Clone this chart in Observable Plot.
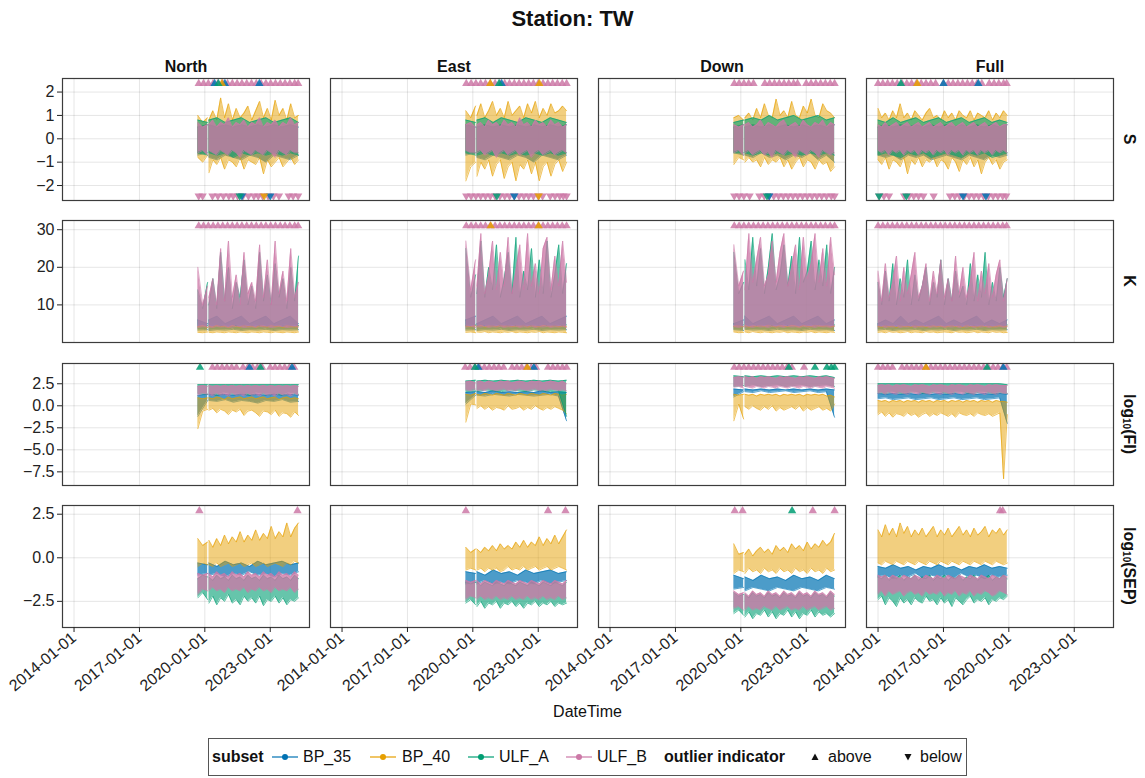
<!DOCTYPE html>
<html>
<head>
<meta charset="utf-8">
<script src="https://cdn.jsdelivr.net/npm/d3@7"></script>
<script src="https://cdn.jsdelivr.net/npm/@observablehq/plot@0.6"></script>
<style>
  body { margin: 0; background: #fff; font-family: "Liberation Sans", Arial, sans-serif; color: #111; }
  #fig { position: relative; width: 1145px; height: 778px; overflow: hidden; background: #fff; }
  .abs { position: absolute; white-space: nowrap; }
  .title { left: 0; width: 1145px; top: 6px; text-align: center; font-weight: bold; font-size: 22px; }
  .rowlab { font-weight: bold; font-size: 16px; transform: translate(-50%, -50%) rotate(90deg); }
  .rowlab sub { font-size: 10px; vertical-align: -1px; }
  .xlab { left: 60px; width: 1055px; top: 703px; text-align: center; font-size: 16px; }
  #legend { left: 208px; top: 738px; width: 759px; height: 38px; border: 1px solid #555; box-sizing: border-box; font-size: 16px; }
  #legend .abs { top: 50%; transform: translateY(-50%); line-height: 16px; }
</style>
</head>
<body>
<div id="fig"></div>
<script>
// ---------- categories and axes ----------
const columns = ["North", "East", "Down", "Full"];
const subsets = ["BP_35", "BP_40", "ULF_A", "ULF_B"];
const subsetColors = ["#0072B2", "#E69F00", "#009E73", "#CC79A7"];
const bandOpacity = [0.7, 0.5, 0.6, 0.78];
const xTickYears = [2014, 2017, 2020, 2023];
const xDomainYears = [2013.47, 2024.80];

// sample spans (decimal years): the live components have a short outage early in 2020
const spanBeforeGap = [2019.68, 2020.13];
const spanAfterGap = [2020.19, 2024.30];
const spanFull = [2014.0, 2019.93];

const sTicks = [-2, -1, 0, 1, 2];
const sDomain = [-2.64, 2.58];
const kTicks = [10, 20, 30];
const kDomain = [0, 32.45];
const fiTicks = [-7.5, -5, -2.5, 0, 2.5];
const fiDomain = [-9.05, 4.8];
const sepTicks = [-2.5, 0, 2.5];
const sepDomain = [-4.0, 3.0];

// outlier indicator levels (data units)
const sAboveLevel = 2.36, sBelowLevel = -2.44, kAboveLevel = 31.0, fiAboveLevel = 4.35, sepAboveLevel = 2.7;

// Each series is a list of [max, min] per time window; null marks the 2020 outage.

// ---------- S ----------
const S_North_BP_35 = [[0.5,-0.7],[0.6,-0.6],null,[0.6,-0.8],[0.5,-0.9],[0.6,-0.7],[0.5,-0.8],[0.6,-0.9],[0.5,-0.7],[0.6,-0.8],[0.5,-1.0],[0.6,-0.7],[0.5,-0.8],[0.6,-0.9],[0.5,-0.7]];
const S_North_BP_40 = [[1.0,-0.8],[0.7,-1.0],[0.9,-0.7],null,[0.8,-1.45],[1.2,-0.9],[0.8,-1.1],[1.75,-0.8],[0.9,-1.3],[1.5,-0.9],[0.8,-1.0],[1.3,-1.2],[0.9,-0.8],[1.1,-1.3],[1.4,-0.9],[0.8,-1.0],[1.2,-1.1],[1.6,-0.8],[0.9,-1.5],[1.3,-0.9],[0.8,-1.2],[1.65,-1.0],[1.0,-0.8],[1.3,-1.2],[0.8,-1.0],[1.5,-0.8],[0.9,-1.1],[1.0,-0.9]];
const S_North_ULF_A = [[0.8,-0.6],[0.7,-0.7],null,[0.8,-0.6],[0.9,-0.7],[0.7,-0.6],[0.8,-0.8],[0.9,-0.6],[0.7,-0.7],[0.8,-0.6],[0.9,-0.7],[0.7,-0.6],[0.8,-0.7],[0.9,-0.6],[0.7,-0.7]];
const S_North_ULF_B = [[0.7,-0.6],[0.5,-0.5],[0.6,-0.7],null,[0.6,-0.5],[0.8,-0.6],[0.5,-0.7],[0.7,-0.5],[0.6,-0.6],[0.9,-0.7],[0.5,-0.5],[0.7,-0.6],[0.6,-0.8],[0.8,-0.5],[0.5,-0.6],[0.7,-0.7],[0.6,-0.5],[0.9,-0.6],[0.5,-0.7],[0.7,-0.5],[0.6,-0.6],[0.8,-0.8],[0.5,-0.5],[0.7,-0.6],[0.6,-0.7],[0.9,-0.5],[0.6,-0.6],[0.7,-0.6]];

const S_East_BP_35 = [[0.6,-0.7],[0.5,-0.6],null,[0.5,-0.8],[0.6,-0.9],[0.5,-0.7],[0.6,-0.8],[0.5,-0.9],[0.6,-0.7],[0.5,-0.8],[0.6,-1.0],[0.5,-0.7],[0.6,-0.8],[0.5,-0.9],[0.6,-0.7]];
const S_East_BP_40 = [[1.2,-1.8],[0.9,-1.2],[1.4,-1.0],null,[1.0,-1.6],[1.5,-1.0],[0.9,-1.3],[1.2,-0.9],[1.6,-1.6],[1.0,-1.1],[1.3,-0.9],[0.9,-1.7],[1.6,-1.2],[1.0,-1.0],[1.2,-1.8],[1.4,-1.1],[0.9,-1.3],[1.5,-0.9],[1.1,-1.5],[1.6,-1.0],[0.9,-1.8],[1.3,-1.2],[1.0,-1.0],[1.5,-1.6],[1.1,-1.1],[1.2,-0.9],[1.4,-1.4],[1.2,-1.0]];
const S_East_ULF_A = [[0.8,-0.6],[0.7,-0.7],null,[0.8,-0.7],[0.9,-0.6],[0.7,-0.7],[0.9,-0.6],[0.8,-0.7],[0.7,-0.6],[0.9,-0.7],[0.8,-0.6],[0.7,-0.7],[0.9,-0.6],[0.8,-0.7],[0.7,-0.6]];
const S_East_ULF_B = [[0.6,-0.5],[0.7,-0.6],[0.5,-0.6],null,[0.6,-0.6],[0.7,-0.5],[0.5,-0.7],[0.8,-0.6],[0.6,-0.5],[0.7,-0.8],[0.5,-0.6],[0.8,-0.5],[0.6,-0.7],[0.7,-0.6],[0.5,-0.5],[0.9,-0.7],[0.6,-0.6],[0.7,-0.5],[0.5,-0.8],[0.8,-0.6],[0.6,-0.5],[0.7,-0.7],[0.5,-0.6],[0.8,-0.5],[0.6,-0.7],[0.7,-0.6],[0.5,-0.5],[0.6,-0.6]];

const S_Down_BP_35 = [[0.5,-0.6],[0.6,-0.7],null,[0.5,-0.7],[0.6,-0.8],[0.5,-0.6],[0.6,-0.8],[0.5,-0.7],[0.6,-0.9],[0.5,-0.7],[0.6,-0.8],[0.5,-0.6],[0.6,-0.9],[0.5,-0.7],[0.6,-1.0]];
const S_Down_BP_40 = [[0.9,-1.1],[1.0,-0.8],[0.8,-0.9],null,[0.9,-1.0],[1.1,-0.8],[0.8,-1.0],[1.3,-0.9],[0.9,-1.2],[1.5,-0.8],[1.0,-1.1],[0.9,-0.9],[1.7,-1.0],[1.0,-0.8],[1.2,-1.2],[0.9,-0.9],[1.6,-1.3],[1.0,-1.0],[0.9,-0.8],[1.4,-1.2],[1.1,-0.9],[1.7,-1.0],[1.0,-1.3],[0.9,-0.9],[1.5,-1.1],[1.2,-1.0],[1.1,-1.4],[0.9,-1.2]];
const S_Down_ULF_A = [[0.7,-0.6],[0.8,-0.6],null,[0.8,-0.6],[0.9,-0.7],[0.8,-0.6],[1.0,-0.7],[0.8,-0.6],[0.9,-0.7],[1.0,-0.6],[0.8,-0.7],[0.9,-0.6],[1.0,-0.7],[0.8,-0.6],[0.9,-0.7]];
const S_Down_ULF_B = [[0.6,-0.6],[0.5,-0.5],[0.6,-0.7],null,[0.6,-0.6],[0.7,-0.5],[0.5,-0.7],[0.6,-0.6],[0.8,-0.5],[0.5,-0.7],[0.7,-0.6],[0.6,-0.8],[0.5,-0.5],[0.7,-0.6],[0.8,-0.7],[0.5,-0.5],[0.6,-0.6],[0.7,-0.8],[0.5,-0.5],[0.8,-0.6],[0.6,-0.7],[0.5,-0.5],[0.7,-0.6],[0.6,-0.8],[0.8,-0.5],[0.5,-0.6],[0.7,-0.7],[0.6,-0.6]];

const S_Full_BP_35 = [[0.5,-0.7],[0.6,-0.8],[0.5,-0.7],[0.6,-0.9],[0.5,-0.7],[0.6,-0.8],[0.5,-0.7],[0.6,-0.9],[0.5,-0.8],[0.6,-0.7],[0.5,-0.8],[0.6,-0.9],[0.5,-0.7],[0.6,-0.8],[0.5,-0.9],[0.6,-0.7],[0.5,-0.8],[0.6,-0.7]];
const S_Full_BP_40 = [[1.3,-0.9],[0.9,-1.1],[1.1,-0.8],[0.8,-1.3],[1.2,-0.9],[0.9,-1.0],[1.5,-1.2],[0.9,-0.8],[1.1,-1.5],[0.8,-0.9],[1.2,-1.1],[1.0,-0.8],[0.8,-1.2],[1.1,-0.9],[1.3,-1.0],[0.9,-0.8],[1.0,-1.2],[0.8,-0.9],[1.2,-1.0],[0.9,-1.3],[1.1,-0.8],[0.8,-1.0],[1.2,-1.4],[1.0,-0.9],[0.9,-1.1],[1.2,-0.8],[0.8,-1.2],[1.1,-0.9],[1.0,-1.5],[0.9,-1.0],[1.2,-0.8],[0.8,-1.1],[1.1,-0.9],[0.9,-1.3],[1.2,-1.0],[1.0,-0.9]];
const S_Full_ULF_A = [[0.8,-0.7],[0.7,-0.6],[0.9,-0.7],[0.7,-0.8],[0.8,-0.6],[0.9,-0.7],[0.7,-0.6],[0.8,-0.8],[0.9,-0.7],[0.7,-0.6],[0.8,-0.7],[0.9,-0.8],[0.7,-0.6],[0.8,-0.7],[0.9,-0.6],[0.7,-0.8],[0.8,-0.7],[0.7,-0.6]];
const S_Full_ULF_B = [[0.6,-0.5],[0.5,-0.6],[0.7,-0.5],[0.5,-0.7],[0.6,-0.5],[0.7,-0.6],[0.5,-0.5],[0.6,-0.7],[0.7,-0.5],[0.5,-0.6],[0.6,-0.5],[0.7,-0.7],[0.5,-0.5],[0.6,-0.6],[0.7,-0.5],[0.5,-0.7],[0.6,-0.5],[0.7,-0.6],[0.5,-0.5],[0.6,-0.7],[0.7,-0.5],[0.5,-0.6],[0.6,-0.5],[0.7,-0.7],[0.5,-0.5],[0.6,-0.6],[0.7,-0.5],[0.5,-0.7],[0.6,-0.5],[0.7,-0.6],[0.5,-0.5],[0.6,-0.7],[0.7,-0.5],[0.5,-0.6],[0.6,-0.5],[0.6,-0.6]];

// ---------- K ----------
const K_North_BP_35 = [[6,3.3],[5,3.4],null,[6,3.2],[7,3.4],[5,3.3],[6,3.5],[7,3.2],[5,3.4],[6,3.3],[7,3.5],[5,3.2],[6,3.4],[7,3.3],[5,3.4]];
const K_North_BP_40 = [[4.2,2.7],[4.5,2.6],[4.0,2.8],null,[4.3,2.7],[4.1,2.6],[4.6,2.8],[4.2,2.7],[4.4,2.6],[4.0,2.8],[4.5,2.7],[4.3,2.6],[4.1,2.8],[4.6,2.7],[4.2,2.6],[4.4,2.8],[4.0,2.7],[4.5,2.6],[4.3,2.8],[4.1,2.7],[4.6,2.6],[4.2,2.8],[4.4,2.7],[4.0,2.6],[4.5,2.8],[4.3,2.7],[4.1,2.6],[4.4,2.8]];
const K_North_ULF_A = [[14,4.6],[9,4.8],[16,4.5],null,[10,4.7],[17,4.6],[9,4.8],[24,4.5],[11,4.7],[20,4.6],[9,4.8],[16,4.5],[12,4.7],[22,4.6],[10,4.8],[15,4.5],[9,4.7],[24,4.6],[11,4.8],[18,4.5],[10,4.7],[21,4.6],[12,4.8],[17,4.5],[9,4.7],[20,4.6],[11,4.8],[23,4.5]];
const K_North_ULF_B = [[20,4.0],[10,4.2],[15,4.1],null,[12,4.1],[17,4.0],[10,4.3],[25,4.1],[11,4.2],[27,4.0],[12,4.1],[18,4.3],[10,4.2],[24,4.0],[13,4.1],[16,4.2],[11,4.0],[26,4.3],[12,4.1],[22,4.2],[10,4.0],[27,4.1],[13,4.3],[19,4.2],[11,4.0],[25,4.1],[12,4.2],[16,4.1]];

const K_East_BP_35 = [[6,3.3],[7,3.4],null,[5,3.2],[6,3.4],[7,3.3],[5,3.5],[6,3.2],[7,3.4],[5,3.3],[6,3.5],[7,3.2],[5,3.4],[6,3.3],[7,3.4]];
const K_East_BP_40 = [[4.4,2.7],[4.2,2.8],[4.5,2.6],null,[4.3,2.8],[4.6,2.7],[4.1,2.9],[4.4,2.6],[4.5,2.8],[4.2,2.7],[4.6,2.6],[4.3,2.8],[4.5,2.7],[4.2,2.9],[4.4,2.6],[4.3,2.8],[4.6,2.7],[4.1,2.6],[4.5,2.8],[4.3,2.7],[4.2,2.9],[4.6,2.6],[4.4,2.8],[4.3,2.7],[4.5,2.6],[4.2,2.8],[4.4,2.7],[4.3,2.6]];
const K_East_ULF_A = [[25,4.6],[12,4.8],[18,4.7],null,[13,4.5],[27,4.8],[12,4.6],[20,4.7],[14,4.5],[26,4.8],[12,4.6],[17,4.7],[24,4.5],[13,4.8],[28,4.6],[12,4.7],[19,4.5],[14,4.8],[25,4.6],[12,4.7],[22,4.5],[13,4.8],[27,4.6],[12,4.7],[18,4.5],[26,4.8],[13,4.6],[21,4.7]];
const K_East_ULF_B = [[27,4.1],[14,4.3],[22,4.0],null,[15,4.2],[29,4.1],[13,4.3],[18,4.0],[27,4.2],[14,4.1],[24,4.3],[15,4.0],[28,4.2],[13,4.1],[19,4.3],[26,4.0],[14,4.2],[29,4.1],[15,4.3],[21,4.0],[13,4.2],[25,4.1],[28,4.3],[14,4.0],[23,4.2],[15,4.1],[27,4.3],[16,4.0]];

const K_Down_BP_35 = [[5,3.4],[6,3.2],null,[7,3.5],[5,3.3],[6,3.4],[7,3.2],[5,3.5],[6,3.3],[7,3.4],[5,3.2],[6,3.5],[7,3.3],[5,3.4],[6,3.2]];
const K_Down_BP_40 = [[4.3,2.8],[4.5,2.6],[4.2,2.7],null,[4.6,2.8],[4.1,2.6],[4.4,2.9],[4.3,2.7],[4.5,2.6],[4.2,2.8],[4.6,2.7],[4.4,2.6],[4.1,2.8],[4.5,2.7],[4.3,2.9],[4.2,2.6],[4.6,2.8],[4.4,2.7],[4.1,2.6],[4.5,2.8],[4.3,2.7],[4.2,2.9],[4.6,2.6],[4.4,2.8],[4.3,2.7],[4.5,2.6],[4.2,2.8],[4.4,2.7]];
const K_Down_ULF_A = [[24,4.8],[13,4.6],[16,4.7],null,[22,4.9],[14,4.6],[28,4.8],[15,4.7],[25,4.6],[13,4.8],[20,4.7],[29,4.6],[14,4.8],[18,4.7],[26,4.9],[15,4.6],[23,4.8],[13,4.7],[28,4.6],[16,4.8],[19,4.7],[27,4.9],[14,4.6],[22,4.8],[15,4.7],[26,4.6],[13,4.8],[20,4.7]];
const K_Down_ULF_B = [[26,4.2],[15,4.0],[19,4.3],null,[14,4.1],[29,4.2],[16,4.0],[22,4.3],[28,4.1],[15,4.2],[18,4.0],[27,4.3],[16,4.1],[24,4.2],[29,4.0],[15,4.3],[20,4.1],[26,4.2],[14,4.0],[28,4.3],[17,4.1],[21,4.2],[29,4.0],[16,4.3],[25,4.1],[15,4.2],[28,4.0],[18,4.3]];

const K_Full_BP_35 = [[5,3.3],[6,3.5],[5,3.2],[7,3.4],[5,3.3],[6,3.5],[5,3.2],[6,3.4],[7,3.3],[5,3.5],[6,3.2],[5,3.4],[6,3.3],[7,3.5],[5,3.2],[6,3.4],[5,3.3],[6,3.4]];
const K_Full_BP_40 = [[4.3,2.7],[4.1,2.8],[4.5,2.6],[4.2,2.9],[4.4,2.7],[4.0,2.8],[4.6,2.6],[4.2,2.7],[4.3,2.9],[4.1,2.6],[4.5,2.8],[4.2,2.7],[4.4,2.6],[4.1,2.9],[4.3,2.7],[4.5,2.8],[4.2,2.6],[4.4,2.7],[4.1,2.8],[4.3,2.7],[4.5,2.6],[4.2,2.9],[4.4,2.7],[4.0,2.8],[4.6,2.6],[4.2,2.7],[4.3,2.9],[4.1,2.6],[4.5,2.8],[4.2,2.7],[4.4,2.6],[4.1,2.9],[4.3,2.7],[4.5,2.8],[4.2,2.6],[4.4,2.7]];
const K_Full_ULF_A = [[16,4.6],[10,4.8],[19,4.5],[11,4.7],[21,4.6],[10,4.8],[17,4.5],[12,4.7],[22,4.6],[10,4.8],[18,4.5],[11,4.7],[15,4.6],[20,4.8],[10,4.5],[16,4.7],[12,4.6],[22,4.8],[10,4.5],[17,4.7],[11,4.6],[19,4.8],[12,4.5],[15,4.7],[10,4.6],[21,4.8],[11,4.5],[18,4.7],[12,4.6],[24,4.8],[10,4.5],[16,4.7],[11,4.6],[20,4.8],[12,4.5],[17,4.7]];
const K_Full_ULF_B = [[19,4.1],[11,4.3],[21,4.0],[12,4.2],[16,4.1],[23,4.3],[11,4.0],[20,4.2],[13,4.1],[18,4.3],[24,4.0],[12,4.2],[15,4.1],[21,4.3],[11,4.0],[19,4.2],[13,4.1],[22,4.3],[12,4.0],[17,4.2],[11,4.1],[23,4.3],[13,4.0],[20,4.2],[12,4.1],[16,4.3],[24,4.0],[11,4.2],[19,4.1],[13,4.3],[21,4.0],[12,4.2],[18,4.1],[22,4.3],[11,4.0],[17,4.2]];

// ---------- log10(FI) ----------
const FI_North_BP_35 = [[1.2,-1.2],[1.3,0.6],null,[1.3,0.6],[1.2,0.5],[1.3,0.7],[1.2,0.4],[1.3,0.6],[1.2,0.5],[1.3,0.3],[1.2,0.6],[1.3,0.5],[1.2,0.7],[1.3,0.4],[1.2,0.5]];
const FI_North_BP_40 = [[0.9,-2.6],[0.8,-0.6],[0.9,-0.4],null,[0.9,-0.5],[0.8,-0.3],[1.0,-0.8],[0.9,-0.4],[0.7,-0.6],[1.0,-1.0],[0.8,-0.5],[0.9,-0.7],[1.0,-0.4],[0.8,-1.1],[0.9,-0.6],[1.0,-0.5],[0.8,-0.8],[0.9,-1.2],[1.0,-0.6],[0.8,-0.7],[0.9,-1.0],[1.0,-0.5],[0.7,-1.2],[0.9,-0.8],[1.0,-0.9],[0.8,-1.3],[0.9,-0.7],[0.8,-1.1]];
const FI_North_ULF_A = [[2.4,1.4],[2.4,1.3],null,[2.4,1.4],[2.4,1.2],[2.4,1.5],[2.4,1.3],[2.4,1.4],[2.4,1.2],[2.4,1.5],[2.4,1.3],[2.4,1.4],[2.4,1.2],[2.4,1.5],[2.4,1.3]];
const FI_North_ULF_B = [[2.2,1.2],[2.3,1.4],[2.2,1.3],null,[2.3,1.3],[2.2,1.1],[2.3,1.4],[2.2,1.2],[2.3,1.3],[2.2,1.1],[2.3,1.4],[2.2,1.2],[2.3,1.3],[2.2,1.1],[2.3,1.4],[2.2,1.2],[2.3,1.3],[2.2,1.1],[2.3,1.4],[2.2,1.2],[2.3,1.3],[2.2,1.1],[2.3,1.4],[2.2,1.2],[2.3,1.3],[2.2,1.1],[2.3,1.4],[2.2,1.2]];

const FI_East_BP_35 = [[1.5,0.2],[1.6,1.2],null,[1.6,1.2],[1.5,1.1],[1.7,1.3],[1.5,1.2],[1.6,1.1],[1.5,1.3],[1.6,1.2],[1.5,1.1],[1.7,1.2],[1.5,1.3],[1.6,1.1],[1.5,-1.7]];
const FI_East_BP_40 = [[1.3,-1.85],[1.2,0.2],[1.4,0.1],null,[1.3,-0.3],[1.2,0.0],[1.4,-0.4],[1.3,-0.1],[1.2,-0.5],[1.4,-0.2],[1.3,-0.3],[1.2,-0.5],[1.4,0.0],[1.3,-0.4],[1.2,-0.3],[1.4,-0.1],[1.3,-0.5],[1.2,-0.2],[1.4,-0.4],[1.3,0.0],[1.2,-0.3],[1.4,-0.5],[1.3,-0.2],[1.2,-0.4],[1.4,-0.1],[1.3,-0.3],[1.2,-0.5],[1.3,-0.9]];
const FI_East_ULF_A = [[2.8,1.6],[2.9,1.7],null,[2.8,1.6],[2.9,1.8],[2.8,1.7],[2.9,1.6],[2.8,1.8],[2.9,1.7],[2.8,1.6],[2.9,1.8],[2.8,1.7],[2.9,1.6],[2.8,1.7],[2.9,-1.2]];
const FI_East_ULF_B = [[2.7,1.8],[2.8,1.7],[2.6,1.9],null,[2.7,1.7],[2.8,1.8],[2.6,1.7],[2.8,1.9],[2.7,1.8],[2.6,1.7],[2.8,1.8],[2.7,1.9],[2.8,1.7],[2.6,1.8],[2.7,1.7],[2.8,1.9],[2.7,1.8],[2.6,1.7],[2.8,1.8],[2.7,1.9],[2.8,1.7],[2.6,1.8],[2.7,1.7],[2.8,1.9],[2.7,1.8],[2.6,1.7],[2.8,1.8],[2.5,1.7]];

const FI_Down_BP_35 = [[1.9,1.0],[1.8,1.6],null,[1.9,1.6],[1.8,1.5],[1.9,1.7],[1.8,1.5],[1.9,1.6],[1.8,1.7],[1.9,1.5],[1.8,1.6],[1.9,1.7],[1.8,1.5],[1.9,1.6],[1.8,-1.3]];
const FI_Down_BP_40 = [[1.3,-1.7],[1.2,0.2],[1.3,-1.5],null,[1.3,-0.1],[1.2,-0.4],[1.3,0.0],[1.1,-0.3],[1.3,-0.5],[1.2,-0.1],[1.3,-0.4],[1.2,0.0],[1.3,-0.6],[1.1,-0.2],[1.3,-0.5],[1.2,-0.3],[1.3,-0.1],[1.2,-0.4],[1.3,0.0],[1.1,-0.6],[1.3,-0.2],[1.2,-0.5],[1.3,-0.3],[1.2,-0.1],[1.3,-0.5],[1.1,-0.3],[1.2,-0.6],[1.0,0.2]];
const FI_Down_ULF_A = [[3.4,2.2],[3.3,2.3],null,[3.4,2.2],[3.3,2.4],[3.4,2.2],[3.3,2.3],[3.4,2.4],[3.3,2.2],[3.4,2.3],[3.3,2.4],[3.4,2.2],[3.3,2.3],[3.4,2.4],[3.2,2.2]];
const FI_Down_ULF_B = [[3.2,2.1],[3.3,2.2],[3.2,2.0],null,[3.3,2.2],[3.2,2.1],[3.3,2.0],[3.1,2.2],[3.3,2.1],[3.2,2.0],[3.3,2.2],[3.2,2.1],[3.1,2.0],[3.3,2.2],[3.2,2.1],[3.3,2.0],[3.2,2.2],[3.1,2.1],[3.3,2.0],[3.2,2.2],[3.3,2.1],[3.2,2.0],[3.1,2.2],[3.3,2.1],[3.2,2.0],[3.3,2.2],[3.2,2.1],[3.1,2.0]];

const FI_Full_BP_35 = [[1.4,0.8],[1.3,0.9],[1.4,0.7],[1.3,0.8],[1.4,0.9],[1.3,0.7],[1.4,0.8],[1.3,0.9],[1.4,0.7],[1.3,0.8],[1.4,0.9],[1.3,0.7],[1.4,0.8],[1.3,0.9],[1.4,0.7],[1.3,0.8],[1.4,0.9],[1.3,-2.0]];
const FI_Full_BP_40 = [[0.6,-1.0],[0.5,-0.7],[0.6,-1.2],[0.4,-0.8],[0.6,-1.3],[0.5,-0.9],[0.6,-1.0],[0.4,-1.2],[0.6,-0.8],[0.5,-1.1],[0.6,-0.9],[0.4,-1.3],[0.6,-1.0],[0.5,-0.8],[0.6,-1.2],[0.4,-0.9],[0.6,-1.1],[0.5,-0.8],[0.6,-1.0],[0.4,-1.2],[0.6,-0.9],[0.5,-1.3],[0.6,-0.8],[0.4,-1.0],[0.6,-1.1],[0.5,-0.9],[0.6,-1.2],[0.4,-0.8],[0.6,-1.0],[0.5,-1.1],[0.6,-0.9],[0.4,-1.2],[0.6,-1.0],[0.5,-0.8],[0.5,-8.3],[0.4,-1.0]];
const FI_Full_ULF_A = [[2.5,1.5],[2.5,1.4],[2.5,1.6],[2.5,1.4],[2.5,1.5],[2.5,1.6],[2.5,1.4],[2.5,1.5],[2.5,1.6],[2.5,1.4],[2.5,1.5],[2.5,1.6],[2.5,1.4],[2.5,1.5],[2.5,1.6],[2.5,1.4],[2.5,1.5],[2.4,1.4]];
const FI_Full_ULF_B = [[2.3,1.4],[2.4,1.5],[2.3,1.3],[2.4,1.5],[2.2,1.4],[2.4,1.3],[2.3,1.5],[2.4,1.4],[2.3,1.3],[2.2,1.5],[2.4,1.4],[2.3,1.3],[2.4,1.5],[2.3,1.4],[2.2,1.3],[2.4,1.5],[2.3,1.4],[2.4,1.3],[2.3,1.5],[2.2,1.4],[2.4,1.3],[2.3,1.5],[2.4,1.4],[2.3,1.3],[2.2,1.5],[2.4,1.4],[2.3,1.3],[2.4,1.5],[2.3,1.4],[2.2,1.3],[2.4,1.5],[2.3,1.4],[2.4,1.3],[2.3,1.5],[2.3,1.4],[2.3,1.4]];

// ---------- log10(SEP) ----------
const SEP_North_BP_35 = [[-0.3,-1.0],[-0.4,-0.9],null,[-0.3,-1.0],[-0.5,-0.9],[-0.2,-1.1],[-0.4,-0.9],[-0.3,-1.0],[-0.5,-0.8],[-0.2,-1.0],[-0.4,-0.9],[-0.3,-1.1],[-0.2,-0.9],[-0.4,-1.0],[-0.3,-0.8]];
const SEP_North_BP_40 = [[1.1,-0.5],[0.7,-0.3],[0.9,-0.4],null,[1.0,-0.4],[0.6,-0.5],[1.1,-0.3],[0.7,-0.5],[1.3,-0.4],[0.8,-0.3],[1.2,-0.5],[0.9,-0.4],[1.5,-0.3],[0.9,-0.5],[1.3,-0.4],[1.0,-0.3],[1.6,-0.5],[1.0,-0.4],[1.4,-0.3],[1.1,-0.5],[1.8,-0.4],[1.1,-0.3],[1.5,-0.4],[1.2,-0.5],[2.0,-0.3],[1.2,-0.4],[1.7,-0.2],[2.0,-0.3]];
const SEP_North_ULF_A = [[-1.2,-2.3],[-1.0,-2.0],[-1.1,-2.4],null,[-1.1,-2.6],[-1.3,-2.2],[-1.0,-2.7],[-1.2,-2.3],[-1.1,-2.5],[-1.3,-2.1],[-1.0,-2.6],[-1.2,-2.4],[-1.1,-2.7],[-1.3,-2.2],[-1.0,-2.5],[-1.2,-2.3],[-1.1,-2.6],[-1.3,-2.2],[-1.0,-2.75],[-1.2,-2.4],[-1.1,-2.5],[-1.3,-2.2],[-1.0,-2.6],[-1.2,-2.3],[-1.1,-2.7],[-1.3,-2.4],[-1.0,-2.5],[-1.2,-2.3]];
const SEP_North_ULF_B = [[-0.9,-2.1],[-1.0,-1.8],[-0.9,-1.9],null,[-0.9,-1.9],[-1.1,-1.7],[-0.8,-1.9],[-1.0,-1.8],[-0.9,-2.0],[-1.1,-1.7],[-0.8,-1.9],[-1.0,-1.8],[-0.9,-1.9],[-1.1,-1.7],[-0.8,-2.0],[-1.0,-1.8],[-0.9,-1.9],[-1.1,-1.7],[-0.8,-1.9],[-1.0,-1.8],[-0.9,-2.0],[-1.1,-1.7],[-0.8,-1.9],[-1.0,-1.8],[-0.9,-1.9],[-1.1,-1.7],[-0.8,-2.0],[-1.0,-1.8]];

const SEP_East_BP_35 = [[-0.8,-1.5],[-0.9,-1.4],null,[-0.8,-1.5],[-1.0,-1.3],[-0.7,-1.5],[-0.9,-1.4],[-0.8,-1.5],[-1.0,-1.3],[-0.7,-1.4],[-0.9,-1.5],[-0.8,-1.3],[-0.7,-1.5],[-0.9,-1.4],[-0.8,-1.3]];
const SEP_East_BP_40 = [[0.6,-0.7],[0.3,-0.6],[0.5,-0.7],null,[0.5,-0.7],[0.3,-0.6],[0.6,-0.8],[0.4,-0.6],[0.7,-0.7],[0.4,-0.6],[0.8,-0.8],[0.5,-0.7],[0.7,-0.5],[0.5,-0.7],[0.9,-0.6],[0.6,-0.7],[1.0,-0.5],[0.6,-0.7],[0.9,-0.6],[0.7,-0.5],[1.2,-0.7],[0.7,-0.6],[1.1,-0.5],[0.8,-0.7],[1.3,-0.6],[0.8,-0.5],[1.2,-0.6],[1.6,-0.7]];
const SEP_East_ULF_A = [[-1.4,-2.6],[-1.5,-2.4],[-1.4,-2.7],null,[-1.4,-2.8],[-1.6,-2.5],[-1.4,-2.9],[-1.5,-2.6],[-1.6,-2.7],[-1.4,-2.5],[-1.5,-2.9],[-1.6,-2.6],[-1.4,-2.7],[-1.5,-2.5],[-1.6,-2.8],[-1.4,-2.6],[-1.5,-2.9],[-1.6,-2.6],[-1.4,-2.7],[-1.5,-2.5],[-1.6,-2.8],[-1.4,-2.6],[-1.5,-2.7],[-1.6,-2.5],[-1.4,-2.8],[-1.5,-2.6],[-1.6,-2.7],[-1.4,-2.6]];
const SEP_East_ULF_B = [[-1.3,-2.4],[-1.4,-2.2],[-1.3,-2.3],null,[-1.3,-2.4],[-1.5,-2.2],[-1.3,-2.4],[-1.4,-2.3],[-1.5,-2.4],[-1.3,-2.2],[-1.4,-2.4],[-1.5,-2.3],[-1.3,-2.4],[-1.4,-2.2],[-1.5,-2.4],[-1.3,-2.3],[-1.4,-2.4],[-1.5,-2.2],[-1.3,-2.4],[-1.4,-2.3],[-1.5,-2.4],[-1.3,-2.2],[-1.4,-2.4],[-1.5,-2.3],[-1.3,-2.4],[-1.4,-2.2],[-1.5,-2.4],[-1.3,-2.3]];

const SEP_Down_BP_35 = [[-1.0,-1.8],[-1.2,-1.7],null,[-1.1,-1.9],[-1.3,-1.7],[-1.0,-1.8],[-1.2,-1.9],[-1.1,-1.7],[-1.3,-1.8],[-1.0,-1.9],[-1.2,-1.7],[-1.1,-1.8],[-1.3,-1.9],[-1.0,-1.7],[-1.2,-1.8]];
const SEP_Down_BP_40 = [[0.8,-0.9],[0.2,-0.7],[0.3,-0.8],null,[0.2,-0.9],[0.5,-0.6],[0.1,-0.8],[0.4,-0.7],[0.6,-0.9],[0.3,-0.6],[0.5,-0.8],[0.2,-0.7],[0.7,-0.9],[0.4,-0.6],[0.6,-0.8],[0.3,-0.7],[0.8,-0.9],[0.5,-0.6],[0.7,-0.8],[0.4,-0.7],[0.9,-0.9],[0.5,-0.6],[0.8,-0.8],[0.6,-0.7],[1.0,-0.9],[0.7,-0.6],[0.9,-0.8],[1.4,-0.7]];
const SEP_Down_ULF_A = [[-2.0,-3.2],[-2.2,-3.0],[-2.1,-3.3],null,[-2.1,-3.4],[-2.3,-3.1],[-2.0,-3.5],[-2.2,-3.2],[-2.1,-3.3],[-2.3,-3.0],[-2.0,-3.4],[-2.2,-3.1],[-2.1,-3.5],[-2.3,-3.2],[-2.0,-3.3],[-2.2,-3.0],[-2.1,-3.4],[-2.3,-3.1],[-2.0,-3.5],[-2.2,-3.2],[-2.1,-3.3],[-2.3,-3.0],[-2.0,-3.4],[-2.2,-3.1],[-2.1,-3.3],[-2.3,-3.2],[-2.0,-3.4],[-2.2,-3.2]];
const SEP_Down_ULF_B = [[-1.9,-2.9],[-2.1,-2.8],[-2.0,-3.0],null,[-2.0,-3.0],[-2.2,-2.8],[-1.9,-3.0],[-2.1,-2.9],[-2.0,-3.0],[-2.2,-2.8],[-1.9,-2.9],[-2.1,-3.0],[-2.0,-2.8],[-2.2,-3.0],[-1.9,-2.9],[-2.1,-2.8],[-2.0,-3.0],[-2.2,-2.9],[-1.9,-3.0],[-2.1,-2.8],[-2.0,-3.0],[-2.2,-2.9],[-1.9,-2.8],[-2.1,-3.0],[-2.0,-2.9],[-2.2,-2.8],[-1.9,-3.0],[-2.1,-2.9]];

const SEP_Full_BP_35 = [[-0.5,-1.1],[-0.6,-1.0],[-0.4,-1.2],[-0.6,-1.0],[-0.5,-1.1],[-0.7,-0.9],[-0.5,-1.2],[-0.6,-1.0],[-0.4,-1.1],[-0.6,-1.0],[-0.5,-1.2],[-0.7,-0.9],[-0.5,-1.1],[-0.6,-1.0],[-0.4,-1.2],[-0.6,-1.0],[-0.5,-1.1],[-0.6,-1.0]];
const SEP_Full_BP_40 = [[1.6,-0.3],[1.2,-0.4],[1.9,-0.2],[1.3,-0.3],[1.7,-0.4],[1.2,-0.2],[2.0,-0.3],[1.4,-0.4],[1.8,-0.2],[1.2,-0.3],[1.6,-0.4],[1.3,-0.2],[1.7,-0.3],[1.2,-0.4],[1.5,-0.2],[1.8,-0.3],[1.2,-0.4],[1.6,-0.2],[1.3,-0.3],[1.7,-0.4],[1.2,-0.2],[1.5,-0.3],[1.8,-0.4],[1.3,-0.2],[1.6,-0.3],[1.2,-0.4],[1.7,-0.2],[1.3,-0.3],[1.5,-0.4],[1.8,-0.2],[1.2,-0.3],[1.6,-0.4],[1.4,-0.2],[1.7,-0.3],[1.3,-0.4],[1.6,-0.3]];
const SEP_Full_ULF_A = [[-1.1,-2.4],[-1.2,-2.2],[-1.0,-2.7],[-1.3,-2.3],[-1.1,-2.5],[-1.2,-2.8],[-1.0,-2.3],[-1.3,-2.6],[-1.1,-2.4],[-1.2,-2.7],[-1.0,-2.3],[-1.3,-2.5],[-1.1,-2.6],[-1.2,-2.2],[-1.0,-2.5],[-1.3,-2.4],[-1.1,-2.7],[-1.2,-2.3],[-1.0,-2.6],[-1.3,-2.4],[-1.1,-2.8],[-1.2,-2.3],[-1.0,-2.5],[-1.3,-2.7],[-1.1,-2.4],[-1.2,-2.2],[-1.0,-2.6],[-1.3,-2.4],[-1.1,-2.5],[-1.2,-2.3],[-1.0,-2.7],[-1.3,-2.4],[-1.1,-2.5],[-1.2,-2.3],[-1.0,-2.4],[-1.2,-2.2]];
const SEP_Full_ULF_B = [[-1.0,-2.1],[-1.1,-1.9],[-1.0,-2.2],[-1.2,-1.9],[-1.0,-2.1],[-1.1,-2.0],[-1.2,-1.9],[-1.0,-2.2],[-1.1,-2.0],[-1.2,-1.9],[-1.0,-2.1],[-1.1,-2.0],[-1.2,-2.2],[-1.0,-1.9],[-1.1,-2.1],[-1.2,-2.0],[-1.0,-2.1],[-1.1,-1.9],[-1.2,-2.2],[-1.0,-2.0],[-1.1,-2.1],[-1.2,-1.9],[-1.0,-2.2],[-1.1,-2.0],[-1.2,-2.1],[-1.0,-1.9],[-1.1,-2.2],[-1.2,-2.0],[-1.0,-2.1],[-1.1,-1.9],[-1.2,-2.0],[-1.0,-2.2],[-1.1,-2.1],[-1.2,-1.9],[-1.0,-2.0],[-1.1,-2.1]];

// ---------- outlier indicators (decimal years); *_pink = ULF_B, *_other = [year, subset] ----------
const S_North_above_pink = [2019.72,2019.94,2020.16,2020.38,2020.6,2020.82,2021.04,2021.26,2021.48,2021.7,2021.92,2022.14,2022.36,2022.58,2022.8,2023.02,2023.24,2023.46,2023.68,2023.9,2024.12,2024.28];
const S_North_above_other = [[2020.45,"BP_35"],[2020.62,"ULF_A"],[2020.78,"BP_40"],[2020.92,"BP_35"],[2022.5,"BP_35"]];
const S_North_below_pink = [2019.72,2019.9,2020.35,2020.6,2020.85,2021.1,2021.3,2021.5,2021.75,2022.0,2022.25,2022.45,2022.65,2022.9,2023.15,2023.4,2023.85,2024.05,2024.28];
const S_North_below_other = [[2021.6,"ULF_A"],[2021.7,"BP_35"],[2022.72,"BP_40"],[2023.0,"BP_35"]];

const S_East_above_pink = [2019.7,2019.92,2020.14,2020.36,2020.58,2020.8,2021.02,2021.24,2021.46,2021.68,2021.9,2022.12,2022.34,2022.56,2022.78,2023.0,2023.22,2023.44,2023.66,2023.88,2024.1,2024.3];
const S_East_above_other = [[2020.8,"BP_40"],[2021.2,"ULF_A"],[2021.32,"BP_35"],[2023.05,"BP_40"]];
const S_East_below_pink = [2019.7,2019.92,2020.14,2020.36,2020.58,2020.8,2021.02,2021.24,2021.46,2021.68,2021.9,2022.12,2022.34,2022.56,2022.78,2023.0,2023.2,2023.55,2023.77,2023.99,2024.15,2024.3];
const S_East_below_other = [[2021.1,"ULF_A"],[2021.9,"BP_35"],[2023.02,"BP_40"]];

const S_Down_above_pink = [2019.7,2019.92,2020.14,2020.36,2020.58,2021.1,2021.32,2021.54,2021.76,2021.98,2022.2,2022.42,2022.6,2023.0,2023.22,2023.44,2023.66,2023.88,2024.1,2024.3];
const S_Down_above_other = [];
const S_Down_below_pink = [2019.7,2019.92,2020.14,2020.4,2020.85,2021.07,2021.29,2021.51,2021.73,2021.95,2022.17,2022.39,2022.61,2022.83,2023.05,2023.27,2023.49,2023.71,2023.93,2024.15,2024.3];
const S_Down_below_other = [[2021.2,"ULF_A"],[2021.3,"BP_35"]];

const S_Full_above_pink = [2014.0,2014.22,2014.44,2014.66,2014.88,2015.1,2015.32,2015.54,2015.76,2015.98,2016.2,2016.42,2016.64,2017.0,2017.22,2017.44,2017.66,2017.88,2018.1,2018.32,2018.54,2018.76,2019.1,2019.32,2019.54,2019.76,2019.9];
const S_Full_above_other = [[2015.05,"ULF_A"],[2015.8,"BP_40"],[2017.0,"BP_35"],[2018.6,"BP_35"]];
const S_Full_below_pink = [2014.05,2014.27,2014.5,2015.2,2015.42,2015.64,2015.86,2016.08,2016.55,2017.3,2017.52,2017.74,2017.96,2018.18,2018.4,2018.62,2018.84,2019.06,2019.28,2019.5,2019.72,2019.88];
const S_Full_below_other = [[2014.05,"ULF_A"],[2015.3,"ULF_A"],[2017.9,"BP_35"],[2018.95,"BP_35"]];

const K_North_above_pink = [2019.72,2019.94,2020.16,2020.38,2020.6,2020.82,2021.04,2021.26,2021.48,2021.7,2021.92,2022.14,2022.36,2022.58,2022.8,2023.02,2023.24,2023.46,2023.68,2023.9,2024.12,2024.28];
const K_North_above_other = [];
const K_East_above_pink = [2019.7,2019.92,2020.14,2020.36,2020.58,2020.8,2021.02,2021.24,2021.46,2021.68,2021.9,2022.12,2022.34,2022.56,2022.78,2023.0,2023.22,2023.44,2023.66,2023.88,2024.1,2024.3];
const K_East_above_other = [[2020.82,"BP_40"],[2023.02,"BP_40"]];
const K_Down_above_pink = [2019.7,2019.92,2020.14,2020.36,2020.58,2020.8,2021.02,2021.24,2021.46,2021.68,2021.9,2022.12,2022.34,2022.56,2022.78,2023.0,2023.22,2023.44,2023.66,2023.88,2024.1,2024.3];
const K_Down_above_other = [];
const K_Full_above_pink = [2014.0,2014.22,2014.44,2014.66,2014.88,2015.1,2015.32,2015.54,2015.76,2015.98,2016.2,2016.42,2016.64,2016.86,2017.08,2017.3,2017.52,2017.74,2017.96,2018.18,2018.4,2018.62,2018.84,2019.06,2019.28,2019.5,2019.72,2019.9];
const K_Full_above_other = [];

const FI_North_above_pink = [2020.35,2020.57,2020.79,2021.01,2021.23,2021.45,2021.75,2021.97,2022.19,2022.41,2022.63,2023.0,2023.22,2023.44,2023.66,2023.88,2024.1];
const FI_North_above_other = [[2019.78,"ULF_A"],[2022.05,"BP_35"],[2022.55,"ULF_A"],[2024.0,"BP_35"]];
const FI_East_above_pink = [2019.65,2019.87,2020.09,2020.31,2020.53,2020.75,2020.97,2021.19,2021.41,2021.8,2022.02,2022.24,2022.46,2022.68,2022.9,2023.45,2023.67,2023.89,2024.11,2024.3];
const FI_East_above_other = [[2020.1,"ULF_A"],[2020.25,"BP_35"],[2022.5,"BP_40"],[2022.8,"BP_35"]];
const FI_Down_above_pink = [2019.7,2019.92,2020.14,2020.36,2020.58,2020.8,2021.02,2021.24,2021.46,2021.68,2021.9,2022.12,2022.34,2022.9];
const FI_Down_above_other = [[2022.2,"ULF_A"],[2023.4,"ULF_A"],[2023.95,"ULF_A"],[2024.15,"ULF_A"],[2024.3,"ULF_A"]];
const FI_Full_above_pink = [2014.0,2014.22,2014.44,2014.66,2015.1,2015.32,2015.54,2015.76,2015.98,2016.2,2016.42,2016.64,2016.86,2017.08,2017.3,2017.52,2017.74,2017.96,2018.18,2018.4,2018.62,2018.84,2019.06,2019.28,2019.5,2019.72,2019.9];
const FI_Full_above_other = [[2016.2,"BP_40"],[2019.0,"ULF_A"],[2019.75,"BP_35"]];

const SEP_North_above_pink = [2019.75, 2024.25];
const SEP_North_above_other = [];
const SEP_East_above_pink = [2019.68, 2023.45, 2024.25];
const SEP_East_above_other = [];
const SEP_Down_above_pink = [2019.72, 2020.08, 2023.3, 2024.3];
const SEP_Down_above_other = [[2022.35, "ULF_A"]];
const SEP_Full_above_pink = [2019.6, 2019.72];
const SEP_Full_above_other = [];

// ---------- assembly ----------
const yr = (y) => {
  const Y = Math.floor(y), a = Date.UTC(Y, 0, 1), b = Date.UTC(Y + 1, 0, 1);
  return new Date(a + (y - Y) * (b - a));
};
const colorOf = Object.fromEntries(subsets.map((s, i) => [s, subsetColors[i]]));

function spread(n, [a, b]) {
  return n === 1 ? [a] : d3.range(n).map((i) => a + (i * (b - a)) / (n - 1));
}
// place each [max, min] window in time; a NaN record breaks the band over the outage
function windowRecords(col, windows) {
  const out = [];
  const put = (list, span) => {
    const t = spread(list.length, span);
    list.forEach(([hi, lo], i) => out.push({col, t: t[i], hi, lo}));
  };
  if (col === "Full") {
    put(windows, spanFull);
  } else {
    const g = windows.indexOf(null);
    put(windows.slice(0, g), spanBeforeGap);
    out.push({col, t: (spanBeforeGap[1] + spanAfterGap[0]) / 2, hi: NaN, lo: NaN});
    put(windows.slice(g + 1), spanAfterGap);
  }
  return out;
}
function outlierRecords(col, pink, other, level) {
  return [
    ...pink.map((t) => ({col, t, y: level, subset: "ULF_B"})),
    ...other.map(([t, subset]) => ({col, t, y: level, subset}))
  ];
}

const seriesByRow = {
  S: {North: [S_North_BP_35, S_North_BP_40, S_North_ULF_A, S_North_ULF_B], East: [S_East_BP_35, S_East_BP_40, S_East_ULF_A, S_East_ULF_B],
      Down: [S_Down_BP_35, S_Down_BP_40, S_Down_ULF_A, S_Down_ULF_B], Full: [S_Full_BP_35, S_Full_BP_40, S_Full_ULF_A, S_Full_ULF_B]},
  K: {North: [K_North_BP_35, K_North_BP_40, K_North_ULF_A, K_North_ULF_B], East: [K_East_BP_35, K_East_BP_40, K_East_ULF_A, K_East_ULF_B],
      Down: [K_Down_BP_35, K_Down_BP_40, K_Down_ULF_A, K_Down_ULF_B], Full: [K_Full_BP_35, K_Full_BP_40, K_Full_ULF_A, K_Full_ULF_B]},
  FI: {North: [FI_North_BP_35, FI_North_BP_40, FI_North_ULF_A, FI_North_ULF_B], East: [FI_East_BP_35, FI_East_BP_40, FI_East_ULF_A, FI_East_ULF_B],
       Down: [FI_Down_BP_35, FI_Down_BP_40, FI_Down_ULF_A, FI_Down_ULF_B], Full: [FI_Full_BP_35, FI_Full_BP_40, FI_Full_ULF_A, FI_Full_ULF_B]},
  SEP: {North: [SEP_North_BP_35, SEP_North_BP_40, SEP_North_ULF_A, SEP_North_ULF_B], East: [SEP_East_BP_35, SEP_East_BP_40, SEP_East_ULF_A, SEP_East_ULF_B],
        Down: [SEP_Down_BP_35, SEP_Down_BP_40, SEP_Down_ULF_A, SEP_Down_ULF_B], Full: [SEP_Full_BP_35, SEP_Full_BP_40, SEP_Full_ULF_A, SEP_Full_ULF_B]}
};

const rows = [
  {key: "S", label: "S", domain: sDomain, ticks: sTicks, fmt: d3.format("d"), top: 78,
   above: [
     ...outlierRecords("North", S_North_above_pink, S_North_above_other, sAboveLevel),
     ...outlierRecords("East", S_East_above_pink, S_East_above_other, sAboveLevel),
     ...outlierRecords("Down", S_Down_above_pink, S_Down_above_other, sAboveLevel),
     ...outlierRecords("Full", S_Full_above_pink, S_Full_above_other, sAboveLevel)
   ],
   below: [
     ...outlierRecords("North", S_North_below_pink, S_North_below_other, sBelowLevel),
     ...outlierRecords("East", S_East_below_pink, S_East_below_other, sBelowLevel),
     ...outlierRecords("Down", S_Down_below_pink, S_Down_below_other, sBelowLevel),
     ...outlierRecords("Full", S_Full_below_pink, S_Full_below_other, sBelowLevel)
   ]},
  {key: "K", label: "K", domain: kDomain, ticks: kTicks, fmt: d3.format("d"), top: 220,
   above: [
     ...outlierRecords("North", K_North_above_pink, K_North_above_other, kAboveLevel),
     ...outlierRecords("East", K_East_above_pink, K_East_above_other, kAboveLevel),
     ...outlierRecords("Down", K_Down_above_pink, K_Down_above_other, kAboveLevel),
     ...outlierRecords("Full", K_Full_above_pink, K_Full_above_other, kAboveLevel)
   ], below: []},
  {key: "FI", label: "log<sub>10</sub>(FI)", domain: fiDomain, ticks: fiTicks, fmt: d3.format(".1f"), top: 363,
   above: [
     ...outlierRecords("North", FI_North_above_pink, FI_North_above_other, fiAboveLevel),
     ...outlierRecords("East", FI_East_above_pink, FI_East_above_other, fiAboveLevel),
     ...outlierRecords("Down", FI_Down_above_pink, FI_Down_above_other, fiAboveLevel),
     ...outlierRecords("Full", FI_Full_above_pink, FI_Full_above_other, fiAboveLevel)
   ], below: []},
  {key: "SEP", label: "log<sub>10</sub>(SEP)", domain: sepDomain, ticks: sepTicks, fmt: d3.format(".1f"), top: 505,
   above: [
     ...outlierRecords("North", SEP_North_above_pink, SEP_North_above_other, sepAboveLevel),
     ...outlierRecords("East", SEP_East_above_pink, SEP_East_above_other, sepAboveLevel),
     ...outlierRecords("Down", SEP_Down_above_pink, SEP_Down_above_other, sepAboveLevel),
     ...outlierRecords("Full", SEP_Full_above_pink, SEP_Full_above_other, sepAboveLevel)
   ], below: []}
];

// triangle symbols centred on their centroid
const triangle = (dir) => ({
  draw(ctx, size) {
    const a = Math.sqrt((size * 4) / Math.sqrt(3)), h = (a * Math.sqrt(3)) / 2;
    ctx.moveTo(0, (dir * -2 * h) / 3);
    ctx.lineTo(a / 2, (dir * h) / 3);
    ctx.lineTo(-a / 2, (dir * h) / 3);
    ctx.closePath();
  }
});
const triUp = triangle(1), triDown = triangle(-1);

const fig = document.getElementById("fig");
const panelHeight = 122;
const xTicks = xTickYears.map(yr);

rows.forEach((row, ri) => {
  const isFirst = ri === 0, isLast = ri === rows.length - 1;
  const marginTop = isFirst ? 34 : 6;
  const marginBottom = isLast ? 90 : 6;
  const marks = [
    Plot.gridX({ticks: xTicks, stroke: "#000", strokeOpacity: 0.1}),
    Plot.gridY({ticks: row.ticks, stroke: "#000", strokeOpacity: 0.1})
  ];
  subsets.forEach((s, si) => {
    const data = columns.flatMap((c) => windowRecords(c, seriesByRow[row.key][c][si]));
    const x = (d) => yr(d.t);
    marks.push(Plot.areaY(data, {x, y1: "lo", y2: "hi", fx: "col", fill: subsetColors[si], fillOpacity: bandOpacity[si]}));
    marks.push(Plot.lineY(data, {x, y: "hi", fx: "col", stroke: subsetColors[si], strokeWidth: 0.7, strokeOpacity: 0.9}));
    marks.push(Plot.lineY(data, {x, y: "lo", fx: "col", stroke: subsetColors[si], strokeWidth: 0.7, strokeOpacity: 0.9}));
  });
  [[row.above, triUp], [row.below, triDown]].forEach(([recs, sym]) => {
    ["ULF_B", "BP_35", "BP_40", "ULF_A"].forEach((s) => {
      const sub = recs.filter((d) => d.subset === s);
      if (sub.length) marks.push(Plot.dot(sub, {x: (d) => yr(d.t), y: "y", fx: "col", symbol: sym, r: 3.1, fill: colorOf[s], fillOpacity: 0.85, stroke: "none"}));
    });
  });
  marks.push(Plot.frame({stroke: "#3c3c3c", strokeWidth: 1.2}));
  marks.push(Plot.axisY({ticks: row.ticks, tickFormat: row.fmt, tickSize: 5, tickPadding: 3, label: null}));
  if (isLast) {
    marks.push(Plot.axisX({ticks: xTicks, tickFormat: d3.utcFormat("%Y-%m-%d"), tickRotate: -40, tickSize: 5, tickPadding: 3, label: null}));
  }
  if (isFirst) {
    marks.push(Plot.text(columns, {fx: (d) => d, text: (d) => d, frameAnchor: "top", dy: -18, fontWeight: "bold", fontSize: 16, fill: "#111"}));
  }
  const svg = Plot.plot({
    width: 1145,
    height: marginTop + panelHeight + marginBottom,
    marginLeft: 60, marginRight: 30, marginTop, marginBottom,
    style: {fontFamily: "'Liberation Sans', Arial, sans-serif", fontSize: "16px", color: "#222", background: "transparent", overflow: "visible"},
    fx: {domain: columns, paddingInner: 0.078, paddingOuter: 0, axis: null, label: null},
    x: {type: "utc", domain: xDomainYears.map(yr), axis: null},
    y: {domain: row.domain, axis: null},
    marks
  });
  svg.style.position = "absolute";
  svg.style.left = "0px";
  svg.style.top = (row.top - marginTop) + "px";
  fig.appendChild(svg);

  const lab = document.createElement("div");
  lab.className = "abs rowlab";
  lab.style.left = "1129px";
  lab.style.top = (row.top + panelHeight / 2) + "px";
  lab.innerHTML = row.label;
  fig.appendChild(lab);
});

// title and shared x label
const title = document.createElement("div");
title.className = "abs title";
title.textContent = "Station: TW";
fig.appendChild(title);
const xlab = document.createElement("div");
xlab.className = "abs xlab";
xlab.textContent = "DateTime";
fig.appendChild(xlab);

// legend: entries placed along the box (left offsets in page pixels)
const legend = document.createElement("div");
legend.id = "legend";
legend.className = "abs";
fig.appendChild(legend);
const put = (html, pageX) => {
  const el = document.createElement("div");
  el.className = "abs";
  el.style.left = (pageX - 209) + "px";
  el.innerHTML = html;
  legend.appendChild(el);
};
const lineSwatch = (c) => `<svg width="26" height="12" style="display:block"><line x1="0" x2="26" y1="6" y2="6" stroke="${c}" stroke-width="1.2"/><circle cx="13" cy="6" r="3" fill="${c}"/></svg>`;
const triSwatch = (up) => `<svg width="10" height="10" style="display:block"><path d="${up ? "M5,1.5L8.5,8L1.5,8Z" : "M5,8.5L8.5,2L1.5,2Z"}" fill="#111"/></svg>`;
put("<b>subset</b>", 212);
const swatchX = [272, 370, 468, 566], labelX = [303, 402, 499, 597];
subsets.forEach((s, i) => { put(lineSwatch(subsetColors[i]), swatchX[i]); put(s, labelX[i]); });
put("<b>outlier indicator</b>", 664);
put(triSwatch(true), 810); put("above", 828);
put(triSwatch(false), 903); put("below", 920);
</script>
</body>
</html>
